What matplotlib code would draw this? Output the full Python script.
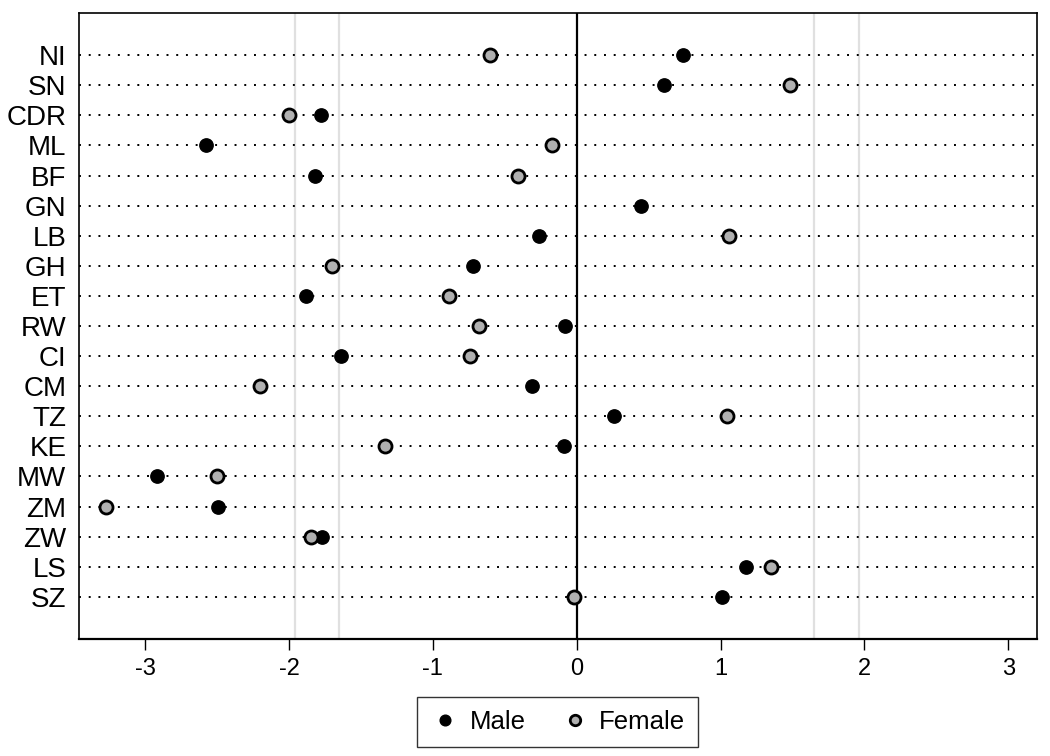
import numpy as np
import matplotlib.pyplot as plt

plt.rcParams['font.family'] = ['Liberation Sans', 'DejaVu Sans']

# =========================================
# data
# =========================================
paises = ["NI", "SN", "CDR", "ML", "BF", "GN", "LB", "GH", "ET", "RW",
          "CI", "CM", "TZ", "KE", "MW", "ZM", "ZW", "LS", "SZ"]
homens = [0.74, 0.61, -1.78, -2.58, -1.82, 0.45, -0.26, -0.72, -1.88, -0.08,
          -1.64, -0.31, 0.26, -0.09, -2.92, -2.49, -1.77, 1.18, 1.01]
mulheres = [-0.60, 1.48, -2.00, -0.17, -0.41, np.nan, 1.06, -1.70, -0.89, -0.68,
            -0.74, -2.20, 1.045, -1.33, -2.50, -3.27, -1.85, 1.35, -0.02]
xticks = [-3, -2, -1, 0, 1, 2, 3]
criticos = [-1.96, -1.65, 1.65, 1.96]

# =========================================
# plot
# =========================================
fig = plt.figure(figsize=(10.5, 7.56), dpi=100)
ax = fig.add_axes([0.0752, 0.1548, 0.9124, 0.828])

y = np.arange(len(paises))

for c in criticos:
    ax.axvline(c, color="#e0e0e0", lw=1.6, zorder=1)

for yi in y:
    ax.axhline(yi, color="black", lw=1.4, ls=(0, (1, 4.0)), zorder=2)

ax.axvline(0, color="black", lw=1.6, zorder=3)

ax.plot(homens, y, "o", ls="none", color="black", markersize=9.6,
        label="Male", zorder=4)
ax.plot(mulheres, y, "o", ls="none", markerfacecolor="#b0b0b0",
        markeredgecolor="black", markeredgewidth=2, markersize=9.4,
        label="Female", zorder=5)

ax.set_xlim(-3.46, 3.20)
ax.set_ylim(len(paises) - 1 + 1.4, -1.4)
ax.set_yticks(y)
ax.set_yticklabels(paises, fontsize=20)
ax.set_xticks(xticks)
ax.set_xticklabels([str(t) for t in xticks], fontsize=17)
ax.tick_params(axis="y", length=0, pad=9)
ax.tick_params(axis="x", length=8, width=1, pad=6)

for s in ax.spines.values():
    s.set_linewidth(1.2)
ax.spines["bottom"].set_linewidth(1.6)

leg = fig.legend(loc="center", bbox_to_anchor=(0.531, 0.045), ncol=2,
                 fontsize=18.5, frameon=True, fancybox=False, edgecolor="black",
                 handletextpad=0.35, columnspacing=1.3, handlelength=1.2,
                 markerscale=0.8, borderpad=0.5)
leg.get_frame().set_linewidth(1.0)

fig.savefig("out.png", dpi=100)
